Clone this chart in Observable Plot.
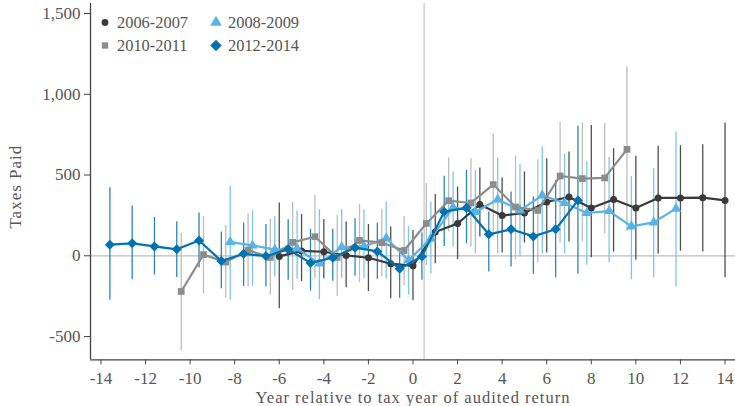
<!DOCTYPE html>
<html>
<head>
<meta charset="utf-8">
<script src="https://cdn.jsdelivr.net/npm/d3@7"></script>
<script src="https://cdn.jsdelivr.net/npm/@observablehq/plot@0.6"></script>
<style>
  body { margin: 0; background: #fff; }
  #wrap { position: relative; width: 735px; height: 406px; }
  #legend { position: absolute; left: 0; top: 0; pointer-events: none; }
  .lbl { letter-spacing: 1px; }
</style>
</head>
<body>
<div id="wrap"></div>
<script>
// ---- data ----
const seriesNames = ["2006-2007", "2008-2009", "2010-2011", "2012-2014"];
const seriesOffsets = [0, -0.2, -0.4, -0.6];
const seriesSymbols = ["circle", "triangle", "square", "diamond2"];
const seriesColors = ["#3a3a3a", "#56b4e9", "#8c8c8c", "#0072b2"];
const barColors = ["#4f4f4f", "#7cc6ee", "#bdbdbd", "#2a85bf"];
const seriesRadius = [3.5, 3.9, 3.8, 4.5];

const years0607 = [-6,-5,-4,-3,-2,-1,0,1,2,3,4,5,6,7,8,9,10,11,12,13,14];
const vals0607  = [-4,30,25,2,-12,-49,-62,147,200,317,249,265,333,364,296,348,296,358,358,360,343];
const lo0607    = [-328,-160,-142,-198,-221,-266,-278,-49,-24,116,17,79,17,85,-12,23,-28,9,29,23,-136];
const hi0607    = [327,255,225,209,194,178,157,380,426,543,481,519,601,643,806,663,616,678,682,688,822];

const years0809 = [-8,-7,-6,-5,-4,-3,-2,-1,0,1,2,3,4,5,6,7,8,9,10,11,12];
const vals0809  = [85,64,38,45,-48,54,58,108,-28,106,300,271,348,281,374,327,265,277,182,207,292];
const lo0809    = [-276,-190,-132,-145,-272,-140,-142,-142,-245,-111,54,13,13,-8,9,13,-59,-45,-148,-136,-194];
const hi0809    = [430,277,244,277,285,285,285,331,182,333,519,529,605,566,674,632,581,608,492,540,767];

const years1011 = [-10,-9,-8,-7,-6,-5,-4,-3,-2,-1,0,1,2,3,4,5,6,7,8,9,10];
const vals1011  = [-221,7,-39,35,-10,83,118,-10,95,81,33,200,341,327,441,302,281,494,478,482,659];
const lo1011    = [-586,-235,-263,-194,-245,-214,-142,-250,-167,-130,-186,-60,147,54,116,-24,-45,79,85,137,150];
const hi1011    = [139,244,187,261,225,331,374,250,319,288,244,447,605,601,752,616,595,829,822,818,1169];

const years1214 = [-13,-12,-11,-10,-9,-8,-7,-6,-5,-4,-3,-2,-1,0,1,2,3,4,5,6,7,8];
const vals1214  = [69,77,58,40,95,-32,12,-2,40,-44,-12,50,27,-80,-4,273,297,133,164,120,164,343];
const lo1214    = [-276,-148,-119,-134,-76,-204,-190,-194,-152,-219,-157,-126,-146,-264,-152,58,75,-101,-70,-115,-136,-115];
const hi1214    = [422,308,238,211,265,147,203,194,223,164,164,229,203,44,141,492,529,271,395,364,467,802];

const xTicks = [-14,-12,-10,-8,-6,-4,-2,0,2,4,6,8,10,12,14];
const yTicks = [-500, 0, 500, 1000, 1500];
const auditLine = [0.5];
const xDomain = [-14.47, 14.47];
const yDomain = [-644, 1562];
const yLabel = "Taxes Paid";
const xLabel = "Year relative to tax year of audited return";

// ---- build table ----
const raw = [
  [years0607, vals0607, lo0607, hi0607],
  [years0809, vals0809, lo0809, hi0809],
  [years1011, vals1011, lo1011, hi1011],
  [years1214, vals1214, lo1214, hi1214]
];
const series = raw.map(([ys, vs, los, his], i) =>
  ys.map((t, j) => ({series: seriesNames[i], t, x: t + seriesOffsets[i], v: vs[j], lo: los[j], hi: his[j]}))
);

const font = "'Liberation Serif', 'DejaVu Serif', serif";
const textColor = "#555";

const marks = [
  Plot.ruleY([0], {stroke: "#bdbdbd", strokeWidth: 1.2}),
  Plot.ruleX(auditLine, {stroke: "#c8c8c8", strokeWidth: 1.3}),
];
series.forEach((rows, i) => {
  marks.push(Plot.ruleX(rows, {x: "x", y1: "lo", y2: "hi", stroke: barColors[i], strokeWidth: 1.3}));
});
series.forEach((rows, i) => {
  marks.push(Plot.line(rows, {x: "x", y: "v", stroke: seriesColors[i], strokeWidth: 2.2}));
  marks.push(Plot.dot(rows, {x: "x", y: "v", symbol: () => seriesSymbols[i], fill: seriesColors[i], stroke: "none", r: seriesRadius[i]}));
});
marks.push(
  Plot.ruleX([xDomain[0]], {stroke: "#444", strokeWidth: 1.3}),
  Plot.ruleY([yDomain[0]], {stroke: "#444", strokeWidth: 1.3}),
  Plot.axisX({ticks: xTicks, tickSize: 5, tickPadding: 7, tickFormat: d => String(d), label: null, stroke: "#444", fontSize: 17}),
  Plot.axisY({ticks: yTicks, tickSize: 6, tickPadding: 4, tickFormat: d => d.toLocaleString("en-US"), label: null, stroke: "#444", fontSize: 17}),
  Plot.text([yLabel], {frameAnchor: "left", dx: -75, dy: 5, rotate: -90, textAnchor: "middle", lineAnchor: "middle", fill: textColor, fontSize: 17, className: "lbl"}),
  Plot.text([xLabel], {frameAnchor: "bottom", dy: 37.9, textAnchor: "middle", lineAnchor: "middle", fill: textColor, fontSize: 16.5, className: "lbl"})
);

const chart = Plot.plot({
  width: 735,
  height: 406,
  marginLeft: 90,
  marginRight: 0,
  marginTop: 3,
  marginBottom: 46.7,
  x: {domain: xDomain},
  y: {domain: yDomain},
  symbol: {type: "identity"},
  style: {fontFamily: font, fontSize: "16px", color: textColor, background: "#fff"},
  marks
});
document.getElementById("wrap").appendChild(chart);

// ---- legend overlay ----
const legendPos = [[105, 22.5], [216, 22.5], [105, 45.5], [216, 45.5]];
const legendR = [3.4, 4.3, 3.6, 5.2];
const lsvg = d3.select("#wrap").append("svg").attr("id", "legend")
  .attr("width", 735).attr("height", 60);
const symMap = {circle: d3.symbolCircle, triangle: d3.symbolTriangle, square: d3.symbolSquare, diamond2: d3.symbolDiamond2};
seriesNames.forEach((name, i) => {
  const [cx, cy] = legendPos[i];
  lsvg.append("path")
    .attr("d", d3.symbol(symMap[seriesSymbols[i]], Math.PI * legendR[i] * legendR[i])())
    .attr("transform", `translate(${cx},${cy})`)
    .attr("fill", seriesColors[i]);
  lsvg.append("text")
    .attr("x", cx + 12).attr("y", cy + 5.5)
    .attr("font-family", font).attr("font-size", 16.4).attr("fill", textColor)
    .text(name);
});
</script>
</body>
</html>
